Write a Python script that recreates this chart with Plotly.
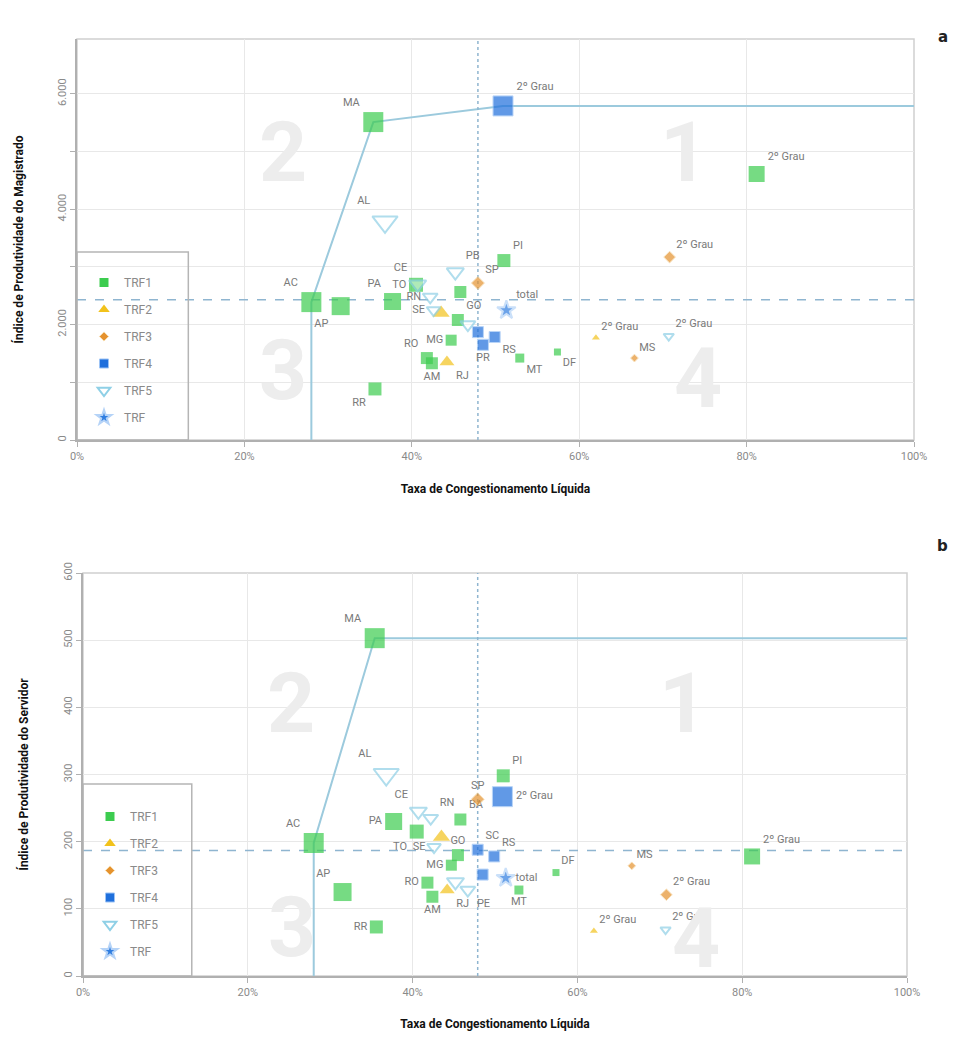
import plotly.graph_objects as go

# ---------------- data ----------------
series = ["TRF1", "TRF2", "TRF3", "TRF4", "TRF5", "TRF"]

trf1_nomes = ["AC", "AM", "AP", "BA", "DF", "GO", "MA", "MG", "MT", "PA", "PI", "RO", "RR", "TO", "2º Grau"]
trf1_taxa = [28.0, 42.4, 31.5, 45.8, 57.4, 45.5, 35.4, 44.7, 52.9, 37.7, 51.0, 41.8, 35.6, 40.5, 81.2]
trf1_ipm = [2390, 1330, 2320, 2565, 1525, 2080, 5510, 1730, 1420, 2400, 3110, 1420, 885, 2690, 4610]
trf1_ips = [198, 118, 125, 233, 154, 180, 503, 165, 128, 230, 298, 139, 73, 215, 178]

trf2_nomes = ["ES", "RJ", "2º Grau"]
trf2_taxa = [43.5, 44.2, 62.0]
trf2_ipm = [2200, 1350, 1770]
trf2_ips = [207, 128, 67]

trf3_nomes = ["SP", "MS", "2º Grau"]
trf3_taxa = [47.9, 66.6, 70.8]
trf3_ipm = [2720, 1420, 3170]
trf3_ips = [263, 164, 121]

trf4_nomes = ["PR", "RS", "SC", "2º Grau"]
trf4_taxa = [48.5, 49.9, 47.9, 50.9]
trf4_ipm = [1650, 1785, 1870, 5790]
trf4_ips = [151, 178, 188, 267]

trf5_nomes = ["AL", "CE", "PB", "PE", "RN", "SE", "2º Grau"]
trf5_taxa = [36.8, 40.7, 45.2, 46.7, 42.2, 42.6, 70.7]
trf5_ipm = [3780, 2700, 2910, 2000, 2480, 2250, 1800]
trf5_ips = [300, 245, 140, 128, 235, 192, 69]

trf_nomes = ["total"]
trf_taxa = [51.3]
trf_ipm = [2250]
trf_ips = [146]

# reference (dashed) lines
ref_taxa = 47.9
ref_ipm = 2430
ref_ips = 187

x_ticks = [0, 20, 40, 60, 80, 100]
x_ticktext = ["0%", "20%", "40%", "60%", "80%", "100%"]
ya_ticks = [0, 1000, 2000, 3000, 4000, 5000, 6000]
ya_ticktext = ["0", "", "2.000", "", "4.000", "", "6.000"]
yb_ticks = [0, 100, 200, 300, 400, 500, 600]
yb_ticktext = ["0", "100", "200", "300", "400", "500", "600"]

titulo_x = "Taxa de Congestionamento Líquida"
titulo_ya = "Índice de Produtividade do Magistrado"
titulo_yb = "Índice de Produtividade do Servidor"

# ---------------- styles ----------------
data = {
    "TRF1": (trf1_nomes, trf1_taxa, trf1_ipm, trf1_ips),
    "TRF2": (trf2_nomes, trf2_taxa, trf2_ipm, trf2_ips),
    "TRF3": (trf3_nomes, trf3_taxa, trf3_ipm, trf3_ips),
    "TRF4": (trf4_nomes, trf4_taxa, trf4_ipm, trf4_ips),
    "TRF5": (trf5_nomes, trf5_taxa, trf5_ipm, trf5_ips),
    "TRF": (trf_nomes, trf_taxa, trf_ipm, trf_ips),
}
sizes = {
    "TRF1": [20, 12, 18, 12, 7, 12, 20, 11, 9, 17, 13, 12, 13, 14, 16],
    "TRF2": [15, 13, 7],
    "TRF3": [10, 6, 9],
    "TRF4": [11, 11, 11, 20],
    "TRF5": [22, 15, 15, 13, 13, 12, 9],
    "TRF": [14],
}
legend_sizes = {"TRF1": 9, "TRF2": 10, "TRF3": 7, "TRF4": 9, "TRF5": 11, "TRF": 11}
style = {
    "TRF1": dict(symbol="square", color="#3ccc4f", line=dict(color="#3ccc4f", width=0)),
    "TRF2": dict(symbol="triangle-up", color="#f2c21b", line=dict(color="#f2c21b", width=0)),
    "TRF3": dict(symbol="diamond", color="#e5922e", line=dict(color="#f7d9a8", width=1)),
    "TRF4": dict(symbol="square", color="#1f6fdc", line=dict(color="#9cc3f5", width=1)),
    "TRF5": dict(symbol="triangle-down", color="rgba(255,255,255,0.6)", line=dict(color="#8fd0e6", width=2)),
    "TRF": dict(symbol="star", color="#2f7de0", line=dict(color="#b5d3f7", width=2)),
}
pos_a = {
    "TRF1": ["top left", "bottom center", "bottom left", "top right", "bottom right", "top right", "top left",
             "middle left", "bottom right", "top left", "top right", "top left", "bottom left", "middle left", "top right"],
    "TRF2": ["top left", "bottom right", "top right"],
    "TRF3": ["top right", "top right", "top right"],
    "TRF4": ["bottom center", "bottom right", "top right", "top right"],
    "TRF5": ["top left", "top left", "top right", "bottom center", "middle left", "middle left", "top right"],
    "TRF": ["top right"],
}
hide_a = {"BA", "ES", "SC", "PE"}
pos_b = {
    "TRF1": ["top left", "bottom center", "top left", "top right", "top right", "top center", "top left",
             "middle left", "bottom center", "middle left", "top right", "middle left", "middle left", "bottom left", "top right"],
    "TRF2": ["top left", "bottom right", "top right"],
    "TRF3": ["top center", "top right", "top right"],
    "TRF4": ["bottom center", "top right", "top right", "middle right"],
    "TRF5": ["top left", "top left", "top right", "bottom right", "top right", "middle left", "top right"],
    "TRF": ["middle right"],
}
hide_b = {"ES", "PR", "PB"}

# page has an 8px body margin: map reference pixels to figure paper coords
W, H, M = 945, 1023, 8
def px(x):
    return (x - M) / W
def py(y):
    return 1 - (y - M) / H

fig = go.Figure()

frontier_color = "#9ccadd"
dash_color = "#8fb5d0"

# frontier lines (built from the data)
def frontier(key):
    pts = []
    for s in series:
        n, x, ya, yb = data[s]
        yy = ya if key == "a" else yb
        for i in range(len(n)):
            pts.append((x[i], yy[i]))
    pts.sort()
    fr = []
    best = -1
    for qx, qy in pts:
        if qy > best:
            fr.append((qx, qy))
            best = qy
    fx = [fr[0][0]] + [p[0] for p in fr] + [100]
    fy = [0] + [p[1] for p in fr] + [fr[-1][1]]
    return fx, fy

fxa, fya = frontier("a")
fxb, fyb = frontier("b")
fig.add_trace(go.Scatter(x=fxa, y=fya, mode="lines", line=dict(color=frontier_color, width=2),
                         showlegend=False, hoverinfo="skip", xaxis="x", yaxis="y"))
fig.add_trace(go.Scatter(x=fxb, y=fyb, mode="lines", line=dict(color=frontier_color, width=2),
                         showlegend=False, hoverinfo="skip", xaxis="x2", yaxis="y2"))

# dashed reference lines
fig.add_trace(go.Scatter(x=[0, 100], y=[ref_ipm, ref_ipm], mode="lines",
                         line=dict(color=dash_color, width=1.5, dash="dash"), showlegend=False,
                         hoverinfo="skip", xaxis="x", yaxis="y"))
fig.add_trace(go.Scatter(x=[ref_taxa, ref_taxa], y=[0, 6950], mode="lines",
                         line=dict(color=dash_color, width=1.5, dash="dot"), showlegend=False,
                         hoverinfo="skip", xaxis="x", yaxis="y"))
fig.add_trace(go.Scatter(x=[0, 100], y=[ref_ips, ref_ips], mode="lines",
                         line=dict(color=dash_color, width=1.5, dash="dash"), showlegend=False,
                         hoverinfo="skip", xaxis="x2", yaxis="y2"))
fig.add_trace(go.Scatter(x=[ref_taxa, ref_taxa], y=[0, 600], mode="lines",
                         line=dict(color=dash_color, width=1.5, dash="dot"), showlegend=False,
                         hoverinfo="skip", xaxis="x2", yaxis="y2"))

label_font = dict(family="Roboto, Arial, sans-serif", size=11, color="#7a7a7a")

for s in series:
    n, x, ya, yb = data[s]
    st = style[s]
    txt_a = [("" if nm in hide_a else nm) for nm in n]
    txt_b = [("" if nm in hide_b else nm) for nm in n]
    mk = dict(symbol=st["symbol"], size=sizes[s], color=st["color"], line=st["line"])
    fig.add_trace(go.Scatter(
        x=x, y=ya, mode="markers+text", name=s, text=txt_a, textposition=pos_a[s],
        textfont=label_font, showlegend=False, marker=mk, xaxis="x", yaxis="y"))
    fig.add_trace(go.Scatter(
        x=x, y=yb, mode="markers+text", name=s, text=txt_b, textposition=pos_b[s],
        textfont=label_font, showlegend=False, marker=mk, xaxis="x2", yaxis="y2"))

# legend entries (fixed small icons)
for lg, xa, yax in (("legend", "x", "y"), ("legend2", "x2", "y2")):
    for s in series:
        st = style[s]
        fig.add_trace(go.Scatter(
            x=[None], y=[None], mode="markers", name=s, legend=lg, legendgroup=s + lg,
            marker=dict(symbol=st["symbol"], size=legend_sizes[s], color=st["color"], line=st["line"]),
            xaxis=xa, yaxis=yax))

# quadrant numbers
quad_font = dict(family="Roboto, Arial, sans-serif", size=84, color="#ededed", weight="bold")
quads_a = [("1", 72.5, 4980), ("2", 24.6, 4980), ("3", 24.6, 1200), ("4", 74.2, 1060)]
quads_b = [("1", 72.8, 405), ("2", 25.2, 405), ("3", 25.4, 72), ("4", 74.4, 56)]
annotations = []
for t, qx, qy in quads_a:
    annotations.append(dict(text=t, x=qx, y=qy, xref="x", yref="y", showarrow=False, font=quad_font))
for t, qx, qy in quads_b:
    annotations.append(dict(text=t, x=qx, y=qy, xref="x2", yref="y2", showarrow=False, font=quad_font))

annotations.append(dict(text="<b>a</b>", x=px(950), y=py(26), xref="paper", yref="paper", showarrow=False,
                        font=dict(family="DejaVu Sans, sans-serif", size=15, color="#222")))
annotations.append(dict(text="<b>b</b>", x=px(950), y=py(546), xref="paper", yref="paper", showarrow=False,
                        font=dict(family="DejaVu Sans, sans-serif", size=15, color="#222")))

# legend boxes
shapes = [
    dict(type="rect", xref="x", yref="y", x0=0, x1=13.3, y0=0, y1=3260, line=dict(color="#b5b5b5", width=1.5),
         fillcolor="rgba(0,0,0,0)", layer="above"),
    dict(type="rect", xref="x2", yref="y2", x0=0, x1=13.2, y0=0, y1=286, line=dict(color="#b5b5b5", width=1.5),
         fillcolor="rgba(0,0,0,0)", layer="above"),
]

tick_font = dict(family="Roboto, Arial, sans-serif", size=11, color="#8a8a8a")
title_font = dict(family="Roboto, Arial, sans-serif", size=12, color="#111")

def xaxis(dom, anchor, standoff):
    return dict(domain=dom, range=[0, 100], tickvals=x_ticks, ticktext=x_ticktext, tickfont=tick_font,
                showgrid=True, gridcolor="#e8e8e8", gridwidth=1, zeroline=False,
                showline=True, linecolor="#b0b0b0", linewidth=2, mirror=False, automargin=False,
                ticks="outside", ticklen=5, tickcolor="#b0b0b0", anchor=anchor,
                title=dict(text="<b>" + titulo_x + "</b>", font=title_font, standoff=standoff))

def yaxis(dom, rng, tv, tt, title, anchor, standoff):
    return dict(domain=dom, range=rng, tickvals=tv, ticktext=tt, tickfont=tick_font, tickangle=-90,
                showgrid=True, gridcolor="#e8e8e8", gridwidth=1, zeroline=False,
                showline=True, linecolor="#b0b0b0", linewidth=2, mirror=False, automargin=False,
                ticks="outside", ticklen=5, tickcolor="#b0b0b0", anchor=anchor,
                title=dict(text="<b>" + title + "</b>", font=title_font, standoff=standoff))

xa_dom = [px(77), px(914)]
xb_dom = [px(83), px(907)]
ya_dom = [py(440), py(39)]
yb_dom = [py(976), py(573)]

# top/right borders
shapes.append(dict(type="rect", xref="x domain", yref="y domain", x0=0, x1=1, y0=0, y1=1,
                   line=dict(color="#d0d0d0", width=1.5), layer="below"))
shapes.append(dict(type="rect", xref="x2 domain", yref="y2 domain", x0=0, x1=1, y0=0, y1=1,
                   line=dict(color="#d0d0d0", width=1.5), layer="below"))

legend_font = dict(family="Roboto, Arial, sans-serif", size=12, color="#8a8a8a")
fig.update_layout(
    width=W, height=H,
    margin=dict(l=0, r=0, t=0, b=0, autoexpand=False),
    paper_bgcolor="white", plot_bgcolor="white",
    xaxis=xaxis(xa_dom, "y", 22),
    yaxis=yaxis(ya_dom, [0, 6950], ya_ticks, ya_ticktext, titulo_ya, "x", 29),
    xaxis2=xaxis(xb_dom, "y2", 33),
    yaxis2=yaxis(yb_dom, [0, 600], yb_ticks, yb_ticktext, titulo_yb, "x2", 30),
    legend=dict(x=px(84), y=py(268), xanchor="left", yanchor="top", bgcolor="rgba(0,0,0,0)",
                font=legend_font, itemsizing="trace", tracegroupgap=8, borderwidth=0),
    legend2=dict(x=px(90), y=py(802), xanchor="left", yanchor="top", bgcolor="rgba(0,0,0,0)",
                 font=legend_font, itemsizing="trace", tracegroupgap=8, borderwidth=0),
    annotations=annotations,
    shapes=shapes,
    showlegend=True,
)

fig.write_html("out.html")
